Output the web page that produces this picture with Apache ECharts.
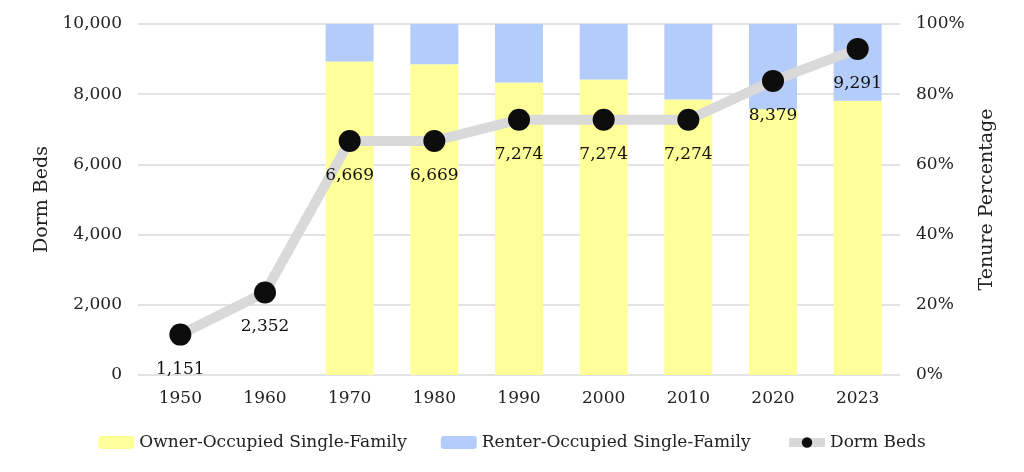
<!DOCTYPE html>
<html><head><meta charset="utf-8">
<script src="https://cdn.jsdelivr.net/npm/echarts@6/dist/echarts.min.js"></script>
<style>html,body{margin:0;padding:0;background:#fff}#c{width:1024px;height:472px}</style>
</head><body><div id="c"></div>
<script>
const categories = ['1950','1960','1970','1980','1990','2000','2010','2020','2023'];
const ownerPct = [null, null, 89.3, 88.5, 83.3, 84.2, 78.5, 75.7, 78.1];
const renterPct = [null, null, 10.7, 11.5, 16.7, 15.8, 21.5, 24.3, 21.9];
const dormBeds = [1151, 2352, 6669, 6669, 7274, 7274, 7274, 8379, 9291];
const leftTicks = {min: 0, max: 10000, interval: 2000};
const rightTicks = {min: 0, max: 100, interval: 20};

const font = 'DejaVu Serif';
const chart = echarts.init(document.getElementById('c'));
chart.setOption({
  animation: false,
  textStyle: {fontFamily: font},
  grid: {left: 138, right: 124, top: 24, bottom: 97},
  legend: {
    bottom: 16, left: 'center', itemWidth: 36, itemHeight: 13, itemGap: 34,
    textStyle: {fontFamily: font, fontSize: 17, color: '#222'},
    data: ['Owner-Occupied Single-Family', 'Renter-Occupied Single-Family',
      {name: 'Dorm Beds', lineStyle: {width: 9, color: '#d9d9d9'}}]
  },
  xAxis: {
    type: 'category', data: categories,
    axisLine: {show: false}, axisTick: {show: false},
    axisLabel: {fontFamily: font, fontSize: 17, color: '#222', margin: 15}
  },
  yAxis: [
    {type: 'value', min: leftTicks.min, max: leftTicks.max, interval: leftTicks.interval,
     name: 'Dorm Beds', nameLocation: 'middle', nameGap: 86, nameRotate: 90,
     nameTextStyle: {fontFamily: font, fontSize: 19, color: '#222'},
     axisLabel: {fontFamily: font, fontSize: 17, color: '#222', margin: 16,
       formatter: v => v.toLocaleString('en-US')},
     splitLine: {lineStyle: {color: '#d9d9d9', width: 1.5}}},
    {type: 'value', min: rightTicks.min, max: rightTicks.max, interval: rightTicks.interval,
     name: 'Tenure Percentage', nameLocation: 'middle', nameGap: 78, nameRotate: 90,
     nameTextStyle: {fontFamily: font, fontSize: 19, color: '#222'},
     axisLabel: {fontFamily: font, fontSize: 17, color: '#222', margin: 16, formatter: '{value}%'},
     splitLine: {show: false}}
  ],
  series: [
    {name: 'Owner-Occupied Single-Family', type: 'bar', stack: 't', yAxisIndex: 1,
     data: ownerPct, barWidth: 48, itemStyle: {color: '#FFFF99'}},
    {name: 'Renter-Occupied Single-Family', type: 'bar', stack: 't', yAxisIndex: 1,
     data: renterPct, barWidth: 48, itemStyle: {color: '#B4CCFA'}},
    {name: 'Dorm Beds', type: 'line', yAxisIndex: 0, data: dormBeds, z: 5,
     symbol: 'circle', symbolSize: 22,
     lineStyle: {color: '#d9d9d9', width: 10},
     itemStyle: {color: '#0d0d0d'},
     label: {show: true, position: 'bottom', distance: 15, fontFamily: font, fontSize: 17, color: '#111',
       formatter: p => p.value.toLocaleString('en-US')}}
  ]
});
</script></body></html>
